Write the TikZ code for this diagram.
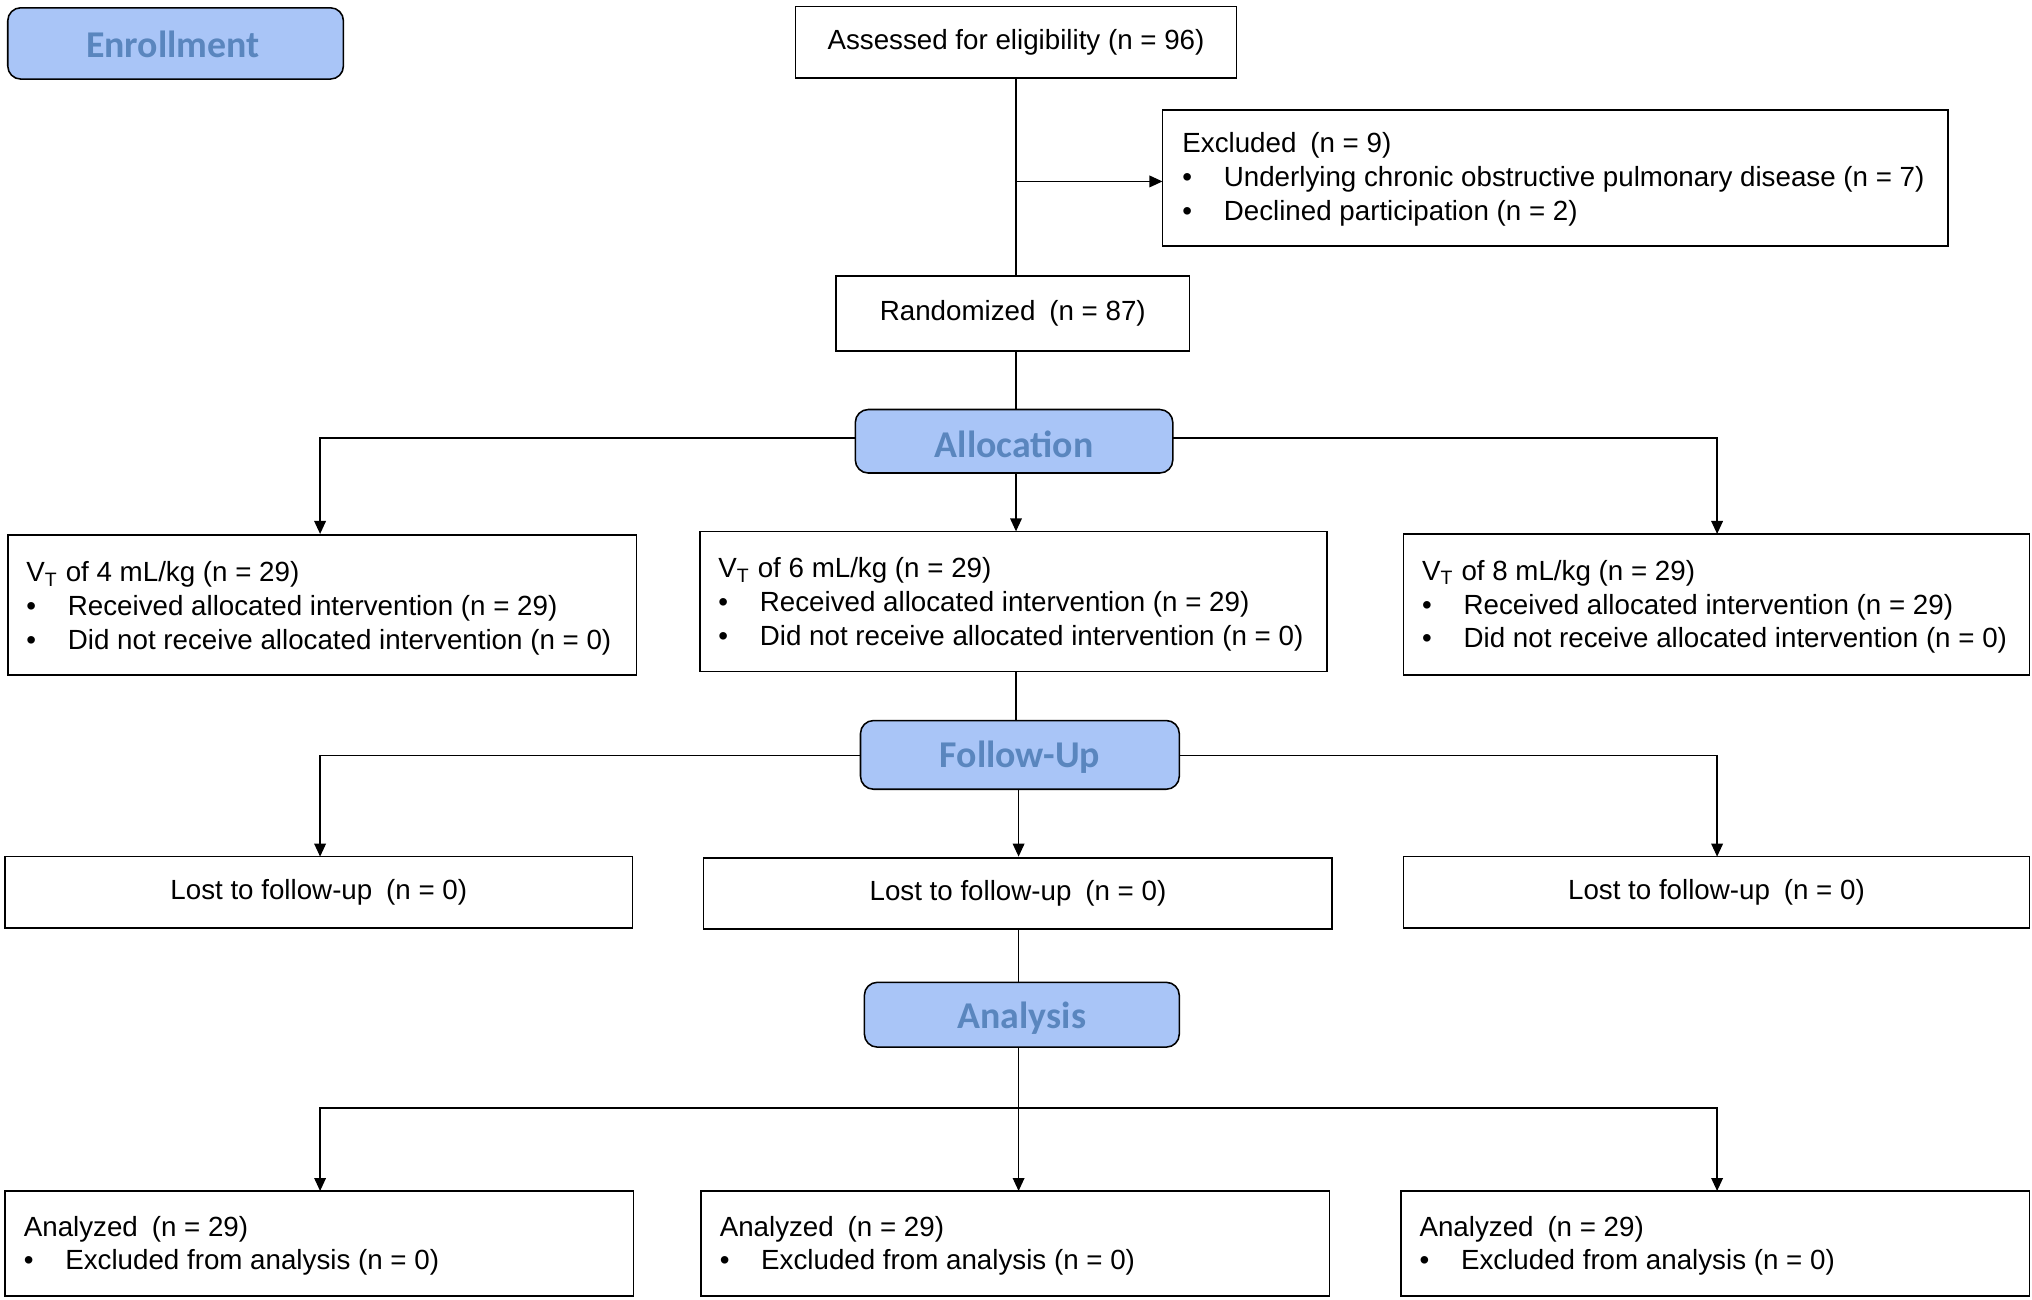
\documentclass[tikz,border=0pt]{standalone}
\usepackage{fontspec}
\setmainfont{Liberation Sans}
\newfontfamily\headfont{Carlito}
\usetikzlibrary{arrows.meta}
\definecolor{hfill}{HTML}{A9C5F7}
\definecolor{htext}{HTML}{5A86BE}
\begin{document}
\begin{tikzpicture}[x=0.5pt,y=-0.5pt,
  box/.style={draw,semithick,fill=white},
  head/.style={draw,semithick,rounded corners=5pt,fill=hfill},
  htxt/.style={text=htext,font=\headfont\bfseries\fontsize{14.6}{16}\selectfont},
  txt/.style={anchor=north west,align=left,font=\fontsize{10.7}{13}\selectfont,inner sep=0pt},
  ctxt/.style={align=center,font=\fontsize{10.7}{13}\selectfont},
  arr/.style={-{Triangle[length=5pt,width=4.5pt]}},
  ln/.style={line width=0.5pt}]
\useasboundingbox (0,0) rectangle (1568,1003);
\fill[white] (0,0) rectangle (1568,1003);
\newcommand\bul{\hbox to 16pt{\textbullet\hfil}}
% enrollment
\draw[head] (6,6) rectangle (265,61);
\node[htxt] (enr) at (133.5,34) {Enrollment};
\draw[box] (614,5) rectangle (954,60);
\node[ctxt] (ass) at (784,32.5) {Assessed for eligibility (n = 96)};
\draw[box] (897,85) rectangle (1503,190);
\node[txt] (exc) at (912,102) {Excluded\enspace(n = 9)\\
\bul Underlying chronic obstructive pulmonary disease (n = 7)\\
\bul Declined participation (n = 2)};
\draw[box] (645,213) rectangle (918,271);
\node[ctxt] (ran) at (781.5,242) {Randomized\enspace(n = 87)};
\coordinate (a1) at (784,60); \coordinate (a2) at (784,213);
\coordinate (e1) at (784,140); \coordinate (e2) at (897,140);
\draw[ln] (a1) -- (a2);
\draw[ln,arr] (e1) -- (e2);
\draw[ln] (784,271) -- (784,316);
% allocation
\draw[ln,arr] (660,338) -| (247,412);
\draw[ln,arr] (905,338) -| (1325,412);
\draw[ln,arr] (784,365) -- (784,410);
\draw[head] (660,316) rectangle (905,365);
\node[htxt] (alloc) at (782.5,343) {Allocation};
\foreach \x/\y/\w/\h/\v in {6/413/491/521/4,540/410/1024/518/6,1083/412/1566/521/8}{
  \draw[box] (\x,\y) rectangle (\w,\h);
  \node[txt] at (\x+14,\y+20) {V\textsubscript{T} of \v\ mL/kg (n = 29)\\
  \bul Received allocated intervention (n = 29)\\
  \bul Did not receive allocated intervention (n = 0)};
}
\draw[ln] (784,518) -- (784,556);
% follow-up
\draw[ln,arr] (664,583) -| (247,661);
\draw[ln,arr] (910,583) -| (1325,661);
\draw[ln,arr] (786,609) -- (786,661);
\draw[head] (664,556) rectangle (910,609);
\node[htxt] (fu) at (787,584) {Follow-Up};
\foreach \x/\y/\w/\h in {4/661/488/716,543/662/1028/717,1083/661/1566/716}{
  \draw[box] (\x,\y) rectangle (\w,\h);
  \node[ctxt] at ({(\x+\w)/2},{(\y+\h)/2}) {Lost to follow-up\enspace(n = 0)};
}
\draw[ln] (786,717) -- (786,758);
% analysis
\draw[ln,arr] (786,808) -- (786,919);
\draw[ln,arr] (786,855) -| (247,919);
\draw[ln,arr] (786,855) -| (1325,919);
\draw[head] (667,758) rectangle (910,808);
\node[htxt] (an) at (788.5,786) {Analysis};
\foreach \x in {4,541,1081}{
  \draw[box] (\x,919) rectangle (\x+485,1000);
  \node[txt] at (\x+14,938) {Analyzed\enspace(n = 29)\\
  \bul Excluded from analysis (n = 0)};
}
\end{tikzpicture}
\end{document}
